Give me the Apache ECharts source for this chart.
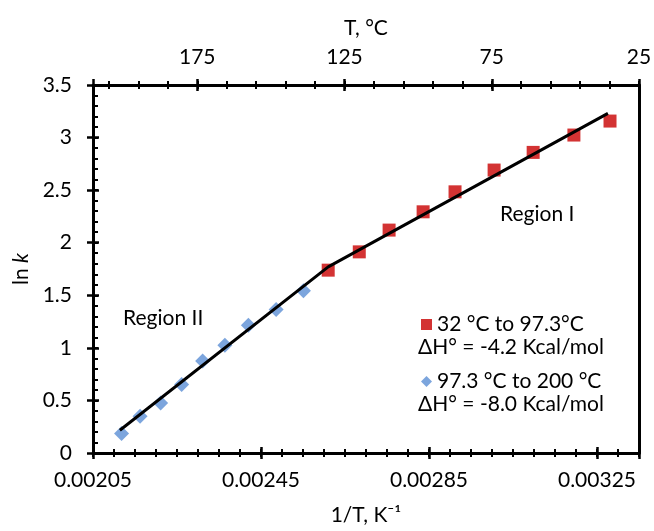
<!DOCTYPE html>
<html>
<head>
<meta charset="utf-8">
<script src="https://cdn.jsdelivr.net/npm/echarts@6/dist/echarts.min.js"></script>
<style>html,body{margin:0;padding:0;background:#fff}#c{width:654px;height:531px}</style>
</head>
<body>
<div id="c"></div>
<script>
// Region I (red squares)
const invT_I = [0.00261, 0.002684, 0.002755, 0.002836, 0.002912, 0.003005, 0.003098, 0.003195, 0.003281];
const lnk_I  = [1.739, 1.913, 2.120, 2.294, 2.484, 2.691, 2.859, 3.024, 3.157];
// Region II (blue diamonds)
const invT_II = [0.002118, 0.002162, 0.002211, 0.002261, 0.002311, 0.002364, 0.00242, 0.002486, 0.002551];
const lnk_II  = [0.185, 0.349, 0.476, 0.651, 0.876, 1.025, 1.216, 1.365, 1.542];
// fitted line
const fitInvT = [0.002114, 0.00261, 0.003276];
const fitLnk  = [0.216, 1.77, 3.23];
// axes
const xMin = 0.00205, xMax = 0.00335;
const topTempLabels = [175, 125, 75, 25];
const tMinC = 25, tMaxC = 210.4;
const legendNames = ['32 °C to 97.3°C', '97.3 °C to 200 °C'];
const dH = ['ΔH° = -4.2 Kcal/mol', 'ΔH° = -8.0 Kcal/mol'];
const regionLabels = ['Region I', 'Region II'];

const FONT = 'Lato';
const FS = 21;
const K = '#000';

const xSpan = Math.round((xMax - xMin) * 1e5); // 130 in units of 1e-5
const tSpan = tMaxC - tMinC;

function pairs(a, b) { return a.map((v, i) => [v, b[i]]); }

// tick-only axis: its labels are placed just outside the canvas
function tickAxis(pos, min, max, interval, offset, length, width, inside, inverse) {
  return {
    type: 'value', position: pos, min: min, max: max, interval: interval, offset: offset, inverse: !!inverse,
    axisLine: { show: false, onZero: false },
    axisLabel: { show: true, margin: 100, color: K, fontSize: 10 },
    axisTick: { show: true, inside: !!inside, length: length, lineStyle: { color: K, width: width } },
    splitLine: { show: false }
  };
}

const chart = echarts.init(document.getElementById('c'), null, { renderer: 'canvas' });
chart.setOption({
  animation: false,
  textStyle: { fontFamily: FONT },
  grid: { left: 93, right: 15, top: 85, bottom: 78, containLabel: false, outerBoundsMode: 'none' },
  xAxis: [
    { // 0: data axis + line
      type: 'value', position: 'bottom', min: xMin, max: xMax,
      axisLine: { show: true, onZero: false, lineStyle: { color: K, width: 3 } },
      axisTick: { show: false }, axisLabel: { show: false }, splitLine: { show: false },
      name: '1/T, K⁻¹', nameLocation: 'middle', nameGap: 52,
      nameTextStyle: { fontFamily: FONT, fontSize: FS, color: K }
    },
    { // 1: bottom labels
      type: 'value', position: 'bottom', min: 0, max: xSpan, interval: 40,
      axisLine: { show: false, onZero: false }, axisTick: { show: false }, splitLine: { show: false },
      axisLabel: { show: true, margin: 17, fontFamily: FONT, fontSize: FS, color: K,
        formatter: v => (v % 40 === 0 ? ((xMin * 1e5 + v) / 1e5).toFixed(5) : '') }
    },
    tickAxis('bottom', 0, xSpan, 5, -4, 8, 2),      // 2: minor ticks
    tickAxis('bottom', 0, xSpan, 40, -6, 12, 2.5),  // 3: major ticks
    { // 4: top temperature axis
      type: 'value', position: 'top', min: 0, max: tSpan, interval: 10, inverse: true,
      axisLine: { show: true, onZero: false, lineStyle: { color: K, width: 3 } },
      axisTick: { show: false }, splitLine: { show: false },
      axisLabel: { show: true, margin: 17, fontFamily: FONT, fontSize: FS, color: K,
        formatter: v => (topTempLabels.indexOf(Math.round(v + tMinC)) >= 0 && Math.abs(v - Math.round(v)) < 1e-6 ? String(Math.round(v + tMinC)) : '') },
      name: 'T, °C', nameLocation: 'middle', nameGap: 46,
      nameTextStyle: { fontFamily: FONT, fontSize: FS, color: K }
    },
    tickAxis('top', 0, tSpan, 10, -4, 8, 2, false, true),    // 5: minor ticks
    tickAxis('top', 0, tSpan, 50, -6, 12, 2.5, false, true)  // 6: major ticks
  ],
  yAxis: [
    { // 0: data axis
      type: 'value', position: 'left', min: 0, max: 3.5, interval: 0.5,
      axisLine: { show: true, onZero: false, lineStyle: { color: K, width: 3 } },
      axisTick: { show: false }, splitLine: { show: false },
      axisLabel: { show: true, margin: 21, fontFamily: FONT, fontSize: FS, color: K },
      name: '{a|ln }{b|k}', nameLocation: 'middle', nameGap: 56, nameRotate: 90,
      nameTextStyle: { rich: { a: { fontFamily: FONT, fontSize: FS, color: K }, b: { fontFamily: FONT, fontSize: FS, color: K, fontStyle: 'italic' } } }
    },
    tickAxis('left', 0, 3.5, 0.5, -6, 12, 2.5),        // 1: major ticks
    tickAxis('left', 0, 3.5, 0.1, 0, 5, 2, true),      // 2: minor ticks inside
    { // 3: right border
      type: 'value', position: 'right', min: 0, max: 3.5,
      axisLine: { show: true, onZero: false, lineStyle: { color: K, width: 3 } },
      axisTick: { show: false }, axisLabel: { show: false }, splitLine: { show: false }
    }
  ],
  legend: {
    orient: 'vertical', left: 416, top: 309, itemGap: 36,
    itemWidth: 11, itemHeight: 11, selectedMode: false,
    textStyle: { fontFamily: FONT, fontSize: FS, color: K },
    data: [{ name: legendNames[0], icon: 'rect' }, { name: legendNames[1], icon: 'diamond' }]
  },
  graphic: [
    { type: 'text', left: 418, top: 337, style: { text: dH[0], font: `${FS}px ${FONT}`, fill: K } },
    { type: 'text', left: 418, top: 394, style: { text: dH[1], font: `${FS}px ${FONT}`, fill: K } },
    { type: 'text', left: 500, top: 204, style: { text: regionLabels[0], font: `${FS}px ${FONT}`, fill: K } },
    { type: 'text', left: 123, top: 308, style: { text: regionLabels[1], font: `${FS}px ${FONT}`, fill: K } }
  ],
  series: [
    { name: legendNames[0], type: 'scatter', xAxisIndex: 0, yAxisIndex: 0, symbol: 'rect', symbolSize: 13,
      itemStyle: { color: '#C80000' }, data: pairs(invT_I, lnk_I), z: 2 },
    { name: legendNames[1], type: 'scatter', xAxisIndex: 0, yAxisIndex: 0, symbol: 'diamond', symbolSize: 15,
      itemStyle: { color: '#5B8FD4' }, data: pairs(invT_II, lnk_II), z: 2 },
    { name: 'fit', type: 'line', xAxisIndex: 0, yAxisIndex: 0, showSymbol: false, symbol: 'none', silent: true,
      lineStyle: { color: K, width: 3 }, data: pairs(fitInvT, fitLnk), z: 3 }
  ]
});
</script>
</body>
</html>
